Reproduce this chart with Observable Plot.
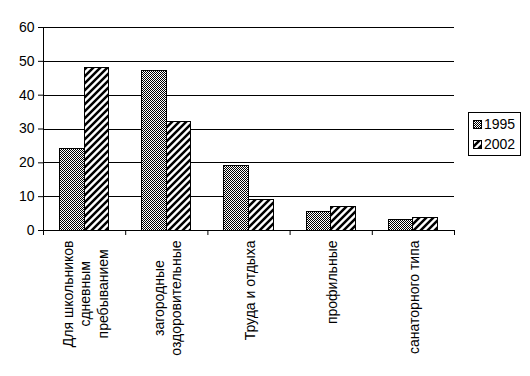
<!DOCTYPE html>
<html>
<head>
<meta charset="utf-8">
<script src="https://cdn.jsdelivr.net/npm/d3@7"></script>
<script src="https://cdn.jsdelivr.net/npm/@observablehq/plot@0.6"></script>
<style>
  html, body { margin: 0; padding: 0; background: #fff; }
  #wrap { position: relative; width: 530px; height: 376px; font-family: "Liberation Sans", Arial, sans-serif; }
  #legend { position: absolute; left: 468px; top: 112px; width: 51px; height: 42px; border: 1px solid #000; background: #fff; font-size: 14px; }
  #legend .row { position: absolute; left: 4px; height: 16px; line-height: 16px; white-space: nowrap; }
  #legend svg { vertical-align: middle; margin-right: 2px; position: relative; top: -1px; }
</style>
</head>
<body>
<div id="wrap"><div id="legend"></div></div>
<script>
const categories = ["Для школьников\nсдневным\nпребыванием", "загородные\nоздоровительные", "Труда и отдыха", "профильные", "санаторного типа"];
const years = ["1995", "2002"];
const values1995 = [24, 47, 19, 5.4, 3];
const values2002 = [48, 32, 9, 6.8, 3.8];
const yTicks = [0, 10, 20, 30, 40, 50, 60];

const patternIds = {"1995": "pat-checker", "2002": "pat-stripes"};
const barW = 0.3;                 // bar width in category units
const gap = (1 - 2 * barW) / 2;   // outer gap in category units

const rows = (vals, k) => vals.map((v, i) => ({cat: categories[i], idx: i, year: years[k], value: v}));
const d1995 = rows(values1995, 0);
const d2002 = rows(values2002, 1);

const n = categories.length;
const bounds = d3.range(n + 1);
const centers = d3.range(n).map(i => i + 0.5);

const chart = Plot.plot({
  width: 530,
  height: 376,
  marginLeft: 43,
  marginRight: 76,
  marginTop: 27,
  marginBottom: 146,
  style: {fontFamily: "Liberation Sans, Arial, sans-serif", fontSize: "14px", background: "#fff", color: "#000"},
  x: {domain: [0, n]},
  y: {domain: [0, 60]},
  marks: [
    Plot.ruleY(yTicks, {stroke: "#000", strokeWidth: 1, shapeRendering: "crispEdges"}),
    Plot.ruleX([0], {stroke: "#000", strokeWidth: 1, shapeRendering: "crispEdges"}),
    Plot.rectY(d1995, {x1: d => d.idx + gap, x2: d => d.idx + gap + barW, y1: 0, y2: "value",
      fill: "url(#pat-checker)", stroke: "#000", strokeWidth: 1, shapeRendering: "crispEdges"}),
    Plot.rectY(d2002, {x1: d => d.idx + gap + barW, x2: d => d.idx + gap + 2 * barW, y1: 0, y2: "value",
      fill: "url(#pat-stripes)", stroke: "#000", strokeWidth: 1, shapeRendering: "crispEdges"}),
    Plot.axisY({ticks: yTicks, tickSize: 5, tickPadding: 4, label: null, fontSize: 14, tickFormat: d3.format("d")}),
    Plot.axisX({ticks: bounds, tickSize: 5, tickFormat: () => "", label: null}),
    Plot.axisX({ticks: centers, tickSize: 0, tickPadding: 10, tickRotate: -90, label: null, fontSize: 14, lineHeight: 1.25,
      tickFormat: d => categories[Math.floor(d)]})
  ]
});

// patterns
const svg = d3.select(chart);
const defs = svg.insert("defs", ":first-child");
const chk = defs.append("pattern").attr("id", "pat-checker").attr("patternUnits", "userSpaceOnUse")
  .attr("width", 2).attr("height", 2);
chk.append("rect").attr("width", 2).attr("height", 2).attr("fill", "#fff");
chk.append("rect").attr("x", 0).attr("y", 0).attr("width", 1).attr("height", 1).attr("fill", "#000");
chk.append("rect").attr("x", 1).attr("y", 1).attr("width", 1).attr("height", 1).attr("fill", "#000");
const str = defs.append("pattern").attr("id", "pat-stripes").attr("patternUnits", "userSpaceOnUse")
  .attr("width", 7).attr("height", 7);
str.append("rect").attr("width", 7).attr("height", 7).attr("fill", "#fff");
str.append("path").attr("d", "M-2,2 L2,-2 M0,7 L7,0 M5,9 L9,5").attr("stroke", "#000").attr("stroke-width", 2.5);

document.getElementById("wrap").prepend(chart);

// center multi-line rotated labels within their block (Excel style)
svg.selectAll("g[aria-label='x-axis tick label'] text").each(function() {
  const tspans = Array.from(this.querySelectorAll("tspan"));
  if (tspans.length < 2) return;
  const L = d3.max(tspans, t => t.getComputedTextLength());
  this.setAttribute("text-anchor", "middle");
  tspans.forEach(t => t.setAttribute("x", -L / 2));
});

// legend
const legend = d3.select("#legend");
years.forEach((y, i) => {
  const row = legend.append("div").attr("class", "row").style("top", (i === 0 ? 3 : 23) + "px");
  const s = row.append("svg").attr("width", 9).attr("height", 9);
  s.append("rect").attr("x", 0.5).attr("y", 0.5).attr("width", 8).attr("height", 8)
    .attr("fill", `url(#${patternIds[y]})`).attr("stroke", "#000").attr("shape-rendering", "crispEdges");
  row.append("span").text(y);
});
</script>
</body>
</html>
